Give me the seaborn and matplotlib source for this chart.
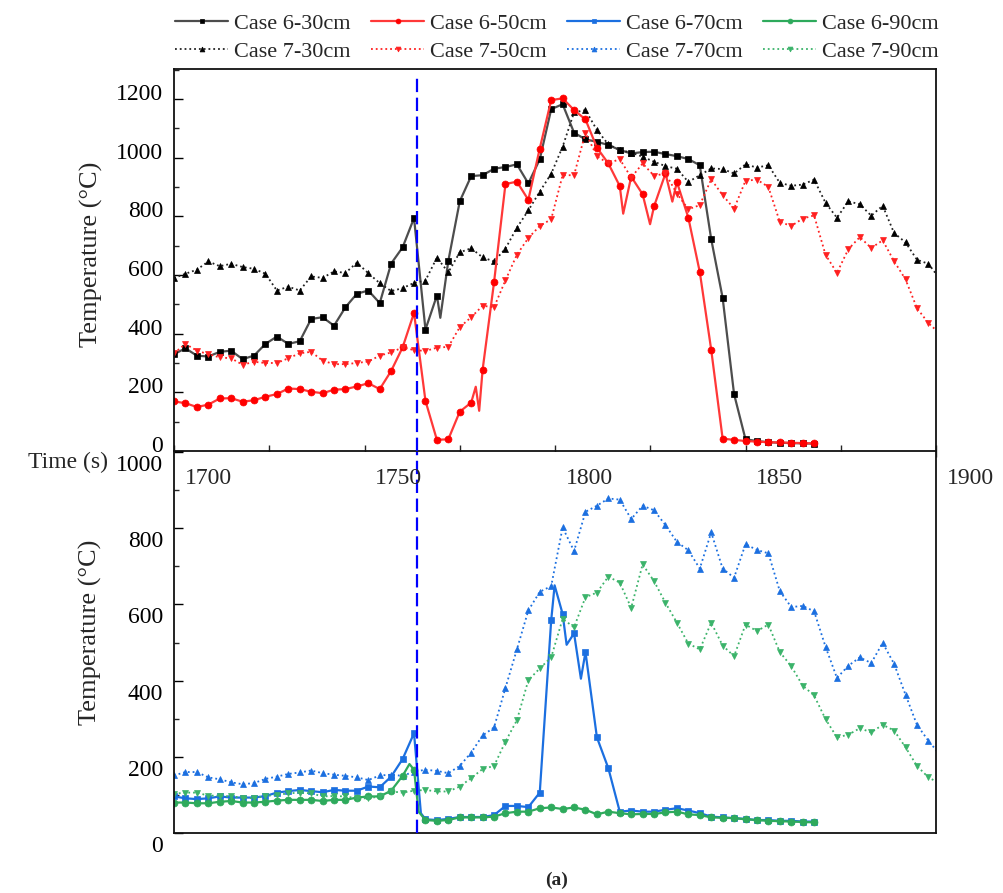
import numpy as np
import pandas as pd
import seaborn as sns
import matplotlib
matplotlib.use('Agg')
import matplotlib.pyplot as plt
from matplotlib.ticker import MultipleLocator
from matplotlib.transforms import ScaledTranslation, blended_transform_factory

# one reading every 3 s, first reading at 1691 s
t0 = 1691
step = 3
t_fire = 1754.8   # dashed marker line

# ---- upper panel: 30 cm and 50 cm ----
c6_30 = [330, 350, 325, 322, 338, 342, 313, 325, 365, 390, 365, 374, 450, 456, 427, 490, 536, 547, 504, 639,
         694, 794, 414, 530, 648, 851, 937, 940, 962, 968, 977, 912, 994, 1165, 1182, 1085, 1062, 1054, 1043, 1026,
         1014, 1019, 1020, 1012, 1005, 995, 974, 722, 522, 194, 40, 34, 30, 28, 27, 26, 25]
c6_30_xi = [23.3]
c6_30_xv = [454]

c7_30 = [590, 604, 618, 646, 630, 638, 627, 621, 604, 547, 560, 547, 595, 590, 612, 607, 642, 606, 572, 545,
         555, 573, 581, 659, 609, 677, 691, 660, 646, 690, 761, 820, 884, 945, 1037, 1154, 1162, 1094, 1045, 1026,
         1017, 1003, 986, 971, 962, 917, 940, 963, 961, 946, 977, 966, 974, 914, 904, 908, 925, 846, 795, 851,
         841, 802, 836, 743, 711, 652, 638, 587]

c6_50 = [169, 163, 150, 158, 179, 180, 168, 173, 185, 194, 213, 211, 202, 197, 209, 211, 220, 231, 211, 273,
         353, 471, 171, 38, 40, 134, 165, 277, 575, 910, 918, 856, 1031, 1196, 1202, 1162, 1130, 1034, 980, 903,
         935, 875, 834, 946, 917, 795, 610, 345, 42, 38, 34, 32, 30, 29, 28, 27, 26]
c6_50_xi = [26.4, 26.7, 39.3, 41.65, 43.6]
c6_50_xv = [219, 137, 809, 773, 850]

c7_50 = [333, 365, 342, 330, 319, 316, 294, 304, 300, 300, 316, 333, 338, 308, 296, 296, 300, 305, 325, 336,
         353, 344, 341, 352, 355, 422, 456, 495, 490, 582, 669, 726, 767, 790, 940, 940, 1085, 1005, 980, 995,
         932, 980, 938, 946, 877, 824, 838, 926, 872, 826, 921, 925, 900, 781, 767, 792, 803, 669, 607, 688,
         729, 692, 718, 647, 585, 487, 436, 400]

# ---- lower panel: 70 cm and 90 cm ----
c6_70 = [96, 91, 89, 91, 96, 93, 93, 93, 97, 106, 110, 113, 110, 107, 113, 111, 111, 122, 120, 148,
         194, 262, 36, 34, 37, 42, 42, 42, 47, 71, 71, 68, 106, 558, 575, 524, 475, 251, 170, 56,
         59, 56, 56, 61, 65, 59, 52, 43, 41, 39, 37, 34, 34, 32, 32, 30, 30]
c6_70_xi = [21.6, 33.3, 34.35, 35.6]
c6_70_xv = [52, 650, 494, 405]

c7_70 = [151, 160, 160, 146, 141, 133, 128, 131, 142, 148, 155, 159, 164, 157, 153, 150, 146, 139, 151, 153,
         150, 161, 166, 163, 157, 176, 211, 256, 277, 381, 482, 584, 633, 648, 802, 740, 843, 859, 878, 875,
         824, 859, 847, 808, 764, 742, 694, 789, 694, 670, 758, 743, 734, 635, 593, 596, 582, 489, 407, 439,
         461, 446, 499, 444, 363, 284, 242, 206]

c6_90 = [80, 80, 78, 78, 82, 84, 80, 80, 82, 85, 87, 87, 87, 84, 87, 87, 93, 96, 96, 111,
         150, 166, 34, 32, 34, 41, 41, 41, 43, 52, 56, 56, 65, 67, 63, 67, 61, 49, 56, 52,
         49, 50, 50, 54, 56, 49, 47, 41, 40, 39, 36, 34, 32, 31, 30, 29, 28]
c6_90_xi = [20.6, 21.4]
c6_90_xv = [181, 56]

c7_90 = [103, 106, 106, 98, 98, 96, 93, 91, 97, 100, 104, 106, 104, 96, 97, 96, 91, 91, 96, 109,
         106, 111, 113, 109, 109, 122, 144, 168, 176, 240, 296, 401, 432, 461, 562, 540, 619, 631, 673, 657,
         591, 705, 661, 604, 552, 497, 482, 552, 492, 464, 547, 530, 547, 475, 438, 387, 361, 299, 251, 258,
         275, 264, 284, 269, 225, 176, 146, 130]

x_labels = ['1700', '1750', '1800', '1850', '1900']
x_label_pos = [1700, 1750, 1800, 1850, 1900]


def series(vals, extra_i=(), extra_v=()):
    idx = list(range(len(vals))) + list(extra_i)
    temp = list(vals) + list(extra_v)
    mark = [True] * len(vals) + [False] * len(extra_i)
    df = pd.DataFrame({'idx': idx, 'temp': temp, 'mark': mark})
    df = df.sort_values('idx').reset_index(drop=True)
    df['t'] = t0 + step * df['idx']
    return df


def draw(ax, df, label, color, marker, ls, lw, mcolor=None):
    mc = mcolor or color
    sns.lineplot(data=df, x='t', y='temp', ax=ax, color=color, lw=lw, linestyle=ls,
                 marker=marker, markersize=5, markerfacecolor=mc, markeredgecolor=mc,
                 markeredgewidth=0.5, markevery=list(np.flatnonzero(df['mark'].values)),
                 label=label, legend=False, estimator=None, errorbar=None)


sns.set_style('white')
plt.rcParams['font.family'] = ['Liberation Serif', 'DejaVu Serif']

fig = plt.figure(figsize=(10.04, 8.93), dpi=100)
W, H = 1004, 893
ax_top = fig.add_axes([174 / W, 1 - 451 / H, 762 / W, 382 / H])
ax_bot = fig.add_axes([174 / W, 1 - 833 / H, 762 / W, 381 / H])

blue = '#1b6fe0'
green = '#2eaa5c'
draw(ax_top, series(c6_30, c6_30_xi, c6_30_xv), 'Case 6-30cm', '#4d4d4d', 's', '-', 1.6, 'black')
draw(ax_top, series(c7_30), 'Case 7-30cm', '#222222', '^', ':', 1.3, 'black')
draw(ax_top, series(c6_50, c6_50_xi, c6_50_xv), 'Case 6-50cm', '#ff3838', 'o', '-', 1.6, '#ff0000')
draw(ax_top, series(c7_50), 'Case 7-50cm', '#ff2020', 'v', ':', 1.3)
draw(ax_bot, series(c6_70, c6_70_xi, c6_70_xv), 'Case 6-70cm', blue, 's', '-', 1.6)
draw(ax_bot, series(c7_70), 'Case 7-70cm', blue, '^', ':', 1.3)
draw(ax_bot, series(c6_90, c6_90_xi, c6_90_xv), 'Case 6-90cm', green, 'o', '-', 1.6)
draw(ax_bot, series(c7_90), 'Case 7-90cm', '#3bb36a', 'v', ':', 1.3)

ax_top.axvline(t_fire, ymin=0, ymax=0.976, color='#0000ff', lw=1.6, ls=(0, (6, 2.5)), zorder=5)
ax_bot.axvline(t_fire, ymin=0, ymax=1, color='#0000ff', lw=1.6, ls=(0, (6, 2.5)), zorder=5)

for ax, top in [(ax_top, 1302), (ax_bot, 1000)]:
    ax.set_xlim(1691, 1891)
    ax.set_ylim(0, top)
    ax.yaxis.set_major_locator(MultipleLocator(200))
    ax.yaxis.set_minor_locator(MultipleLocator(100))
    ax.tick_params(axis='y', which='major', direction='in', length=6.5, width=1,
                   labelsize=17, pad=8, left=True, right=False, colors='black')
    ax.tick_params(axis='y', which='minor', direction='in', length=3.4, width=1, left=True, right=False)
    ax.set_xlabel('')
    ax.set_ylabel('Temperature (°C)', fontsize=19)
    for sp in ax.spines.values():
        sp.set_color('#111111')
        sp.set_linewidth(1.3)

ax_top.set_xticks(np.arange(1691, 1892, 25))
ax_top.set_xticklabels([])
ax_top.tick_params(axis='x', direction='inout', length=9, width=1, bottom=True, top=False)
ax_bot.set_xticks([])
ax_bot.spines['top'].set_visible(False)

ax_top.yaxis.set_label_coords(-0.093, 0.516)
ax_bot.yaxis.set_label_coords(-0.095, 0.528)

# the tick numbers sit a little off their ticks in the original
for lab in ax_top.get_yticklabels():
    lab.set_transform(lab.get_transform() + ScaledTranslation(0, 7 / 100, fig.dpi_scale_trans))
for lab in ax_bot.get_yticklabels():
    lab.set_transform(lab.get_transform() + ScaledTranslation(0, -11 / 100, fig.dpi_scale_trans))

# time labels sit in the gap, i.e. inside the top strip of the lower panel
trans = blended_transform_factory(ax_bot.transData, ax_bot.transAxes)
for pos, lab in zip(x_label_pos, x_labels):
    ax_bot.text(pos, (833 - 478) / 381, lab, transform=trans, ha='center', va='center',
                fontsize=17, clip_on=False, zorder=6)
fig.text(108 / W, 1 - 462 / H, 'Time (s)', ha='right', va='center', fontsize=17)
fig.text(557 / W, 1 - 880 / H, '(a)', ha='center', va='center', fontsize=14, fontweight='bold')

handles = {}
for ax in (ax_top, ax_bot):
    h, l = ax.get_legend_handles_labels()
    handles.update(dict(zip(l, h)))
order = ['Case 6-30cm', 'Case 7-30cm', 'Case 6-50cm', 'Case 7-50cm',
         'Case 6-70cm', 'Case 7-70cm', 'Case 6-90cm', 'Case 7-90cm']
fig.legend([handles[k] for k in order], order, ncol=4, loc='center',
           bbox_to_anchor=(557 / W, 1 - 37.5 / H), frameon=False, fontsize=16,
           handlelength=2.4, handletextpad=0.27, columnspacing=0.9, labelspacing=0.33,
           borderpad=0, markerscale=0.7)

fig.savefig('out.png', dpi=100)
